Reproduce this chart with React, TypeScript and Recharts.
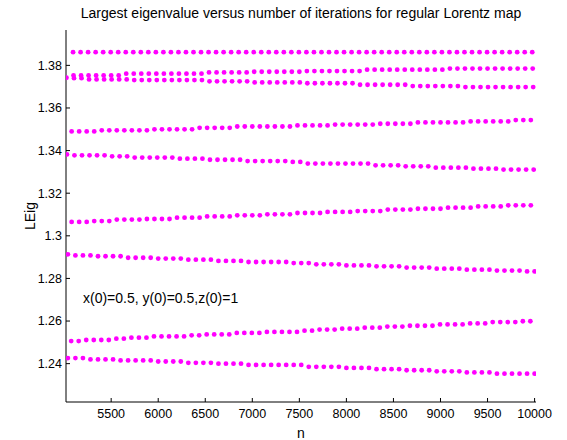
import { Label, Scatter, ScatterChart, XAxis, YAxis } from "recharts";

// base sample grid (n) and per-band shift
const nGrid = [
  5020, 5100, 5180, 5260, 5340, 5420, 5500, 5580, 5660, 5740,
  5820, 5900, 5980, 6060, 6140, 6220, 6300, 6380, 6460, 6540,
  6620, 6700, 6780, 6860, 6940, 7020, 7100, 7180, 7260, 7340,
  7420, 7500, 7580, 7660, 7740, 7820, 7900, 7980, 8060, 8140,
  8220, 8300, 8380, 8460, 8540, 8620, 8700, 8780, 8860, 8940,
  9020, 9100, 9180, 9260, 9340, 9420, 9500, 9580, 9660, 9740,
  9820, 9900, 9980,
];

const bandA = [
  1.3862, 1.3862, 1.3862, 1.3862, 1.3862, 1.3862, 1.3862, 1.3862, 1.3862, 1.3862,
  1.3862, 1.3862, 1.3862, 1.3862, 1.3862, 1.3862, 1.3862, 1.3862, 1.3862, 1.3862,
  1.3862, 1.3862, 1.3862, 1.3862, 1.3862, 1.3862, 1.3862, 1.3862, 1.3862, 1.3862,
  1.3862, 1.3862, 1.3862, 1.3862, 1.3862, 1.3862, 1.3862, 1.3862, 1.3862, 1.3862,
  1.3862, 1.3862, 1.3862, 1.3862, 1.3862, 1.3862, 1.3862, 1.3862, 1.3862, 1.3862,
  1.3862, 1.3862, 1.3862, 1.3862, 1.3862, 1.3862, 1.3862, 1.3862, 1.3862, 1.3862,
  1.3862, 1.3862,
];

const bandB = [
  1.3753, 1.3753, 1.3753, 1.3753, 1.3753, 1.3753, 1.3753,
  1.3761, 1.3761, 1.3761, 1.3761, 1.3761, 1.3761, 1.3761, 1.3761, 1.3761, 1.3761, 1.3761,
  1.3767, 1.3767, 1.3767, 1.3767, 1.3767, 1.3767,
  1.377, 1.377, 1.377, 1.377, 1.377, 1.377, 1.377,
  1.3773, 1.3773, 1.3773, 1.3773, 1.3773, 1.3773, 1.3773, 1.3773,
  1.378, 1.378, 1.378, 1.378, 1.378, 1.378, 1.378, 1.378, 1.378, 1.378, 1.378,
  1.3785, 1.3785, 1.3785, 1.3785, 1.3785, 1.3785, 1.3785, 1.3785, 1.3785, 1.3785, 1.3785, 1.3785,
];

const bandC = [
  1.3742,
  1.374, 1.374,
  1.3734, 1.3734, 1.3734, 1.3734, 1.3734, 1.3734,
  1.3731, 1.3731, 1.3731, 1.3731, 1.3731, 1.3731, 1.3731, 1.3731, 1.3731, 1.3731,
  1.3725, 1.3725, 1.3725, 1.3725, 1.3725, 1.3725,
  1.372, 1.372, 1.372, 1.372, 1.372, 1.372, 1.372,
  1.3716, 1.3716, 1.3716, 1.3716, 1.3716, 1.3716, 1.3716,
  1.3709, 1.3709, 1.3709, 1.3709, 1.3709, 1.3709, 1.3709,
  1.3703, 1.3703, 1.3703, 1.3703, 1.3703, 1.3703, 1.3703,
  1.3698, 1.3698, 1.3698, 1.3698, 1.3698, 1.3698, 1.3698, 1.3698, 1.3698, 1.3698,
];

const bandD = [
  1.349, 1.349, 1.349, 1.349,
  1.3495, 1.3495, 1.3495, 1.3495, 1.3495, 1.3495, 1.3495,
  1.35, 1.35, 1.35, 1.35, 1.35, 1.35,
  1.3507, 1.3507, 1.3507, 1.3507, 1.3507,
  1.3513, 1.3513, 1.3513, 1.3513, 1.3513, 1.3513, 1.3513, 1.3513,
  1.3518, 1.3518, 1.3518, 1.3518, 1.3518,
  1.3522, 1.3522, 1.3522, 1.3522, 1.3522, 1.3522,
  1.3526, 1.3526, 1.3526, 1.3526, 1.3526,
  1.3532, 1.3532, 1.3532, 1.3532, 1.3532, 1.3532, 1.3532,
  1.3537, 1.3537, 1.3537, 1.3537, 1.3537, 1.3537,
  1.3543, 1.3543, 1.3543,
];

const bandE = [
  1.3382,
  1.3378, 1.3378, 1.3378, 1.3378, 1.3378,
  1.3373, 1.3373, 1.3373,
  1.3367, 1.3367, 1.3367, 1.3367, 1.3367, 1.3367,
  1.3362, 1.3362, 1.3362, 1.3362,
  1.3357, 1.3357, 1.3357, 1.3357, 1.3357,
  1.3351, 1.3351, 1.3351, 1.3351, 1.3351, 1.3351,
  1.3347, 1.3347,
  1.3339, 1.3339, 1.3339, 1.3339, 1.3339, 1.3339, 1.3339, 1.3339, 1.3339,
  1.3331, 1.3331, 1.3331, 1.3331,
  1.3326, 1.3326, 1.3326, 1.3326,
  1.332, 1.332, 1.332, 1.332, 1.332,
  1.3315, 1.3315, 1.3315, 1.3315,
  1.3311, 1.3311, 1.3311, 1.3311, 1.3311,
];

const bandF = [
  1.3065, 1.3065, 1.3065,
  1.3069, 1.3069, 1.3069,
  1.3076, 1.3076, 1.3076, 1.3076,
  1.3079, 1.3079, 1.3079, 1.3079,
  1.3085, 1.3085, 1.3085, 1.3085,
  1.3091, 1.3091, 1.3091, 1.3091,
  1.3096, 1.3096, 1.3096, 1.3096,
  1.3101, 1.3101, 1.3101, 1.3101,
  1.3107, 1.3107, 1.3107, 1.3107,
  1.3112, 1.3112, 1.3112, 1.3112,
  1.3116, 1.3116, 1.3116, 1.3116,
  1.3123, 1.3123, 1.3123, 1.3123,
  1.3127, 1.3127, 1.3127, 1.3127,
  1.3132, 1.3132, 1.3132, 1.3132,
  1.3138, 1.3138, 1.3138, 1.3138,
  1.3143, 1.3143, 1.3143, 1.3143,
];

const bandG = [
  1.2913,
  1.2908, 1.2908, 1.2908,
  1.2904, 1.2904, 1.2904, 1.2904,
  1.2897, 1.2897, 1.2897, 1.2897,
  1.2893, 1.2893, 1.2893, 1.2893,
  1.2888, 1.2888, 1.2888, 1.2888,
  1.2882, 1.2882, 1.2882, 1.2882,
  1.2877, 1.2877, 1.2877, 1.2877, 1.2877, 1.2877,
  1.2872, 1.2872, 1.2872,
  1.2866, 1.2866, 1.2866, 1.2866,
  1.2861, 1.2861, 1.2861, 1.2861,
  1.2857, 1.2857, 1.2857, 1.2857,
  1.2851, 1.2851, 1.2851, 1.2851,
  1.2846, 1.2846, 1.2846, 1.2846,
  1.2841, 1.2841, 1.2841, 1.2841,
  1.2837, 1.2837, 1.2837, 1.2837,
  1.2833, 1.2833,
];

const bandH = [
  1.2506, 1.2506,
  1.2511, 1.2511, 1.2511, 1.2511,
  1.2517, 1.2517,
  1.2522, 1.2522, 1.2522,
  1.2528, 1.2528, 1.2528, 1.2528, 1.2528,
  1.2533, 1.2533,
  1.2537, 1.2537, 1.2537, 1.2537,
  1.2544, 1.2544, 1.2544, 1.2544,
  1.2549, 1.2549, 1.2549, 1.2549, 1.2549,
  1.2555, 1.2555,
  1.256, 1.256, 1.256,
  1.2564, 1.2564, 1.2564,
  1.2569, 1.2569, 1.2569,
  1.2574, 1.2574, 1.2574,
  1.2578, 1.2578, 1.2578, 1.2578,
  1.2584, 1.2584, 1.2584, 1.2584,
  1.2589, 1.2589, 1.2589,
  1.2595, 1.2595, 1.2595, 1.2595,
  1.2599, 1.2599,
];

const bandI = [
  1.2426, 1.2426, 1.2426,
  1.242, 1.242, 1.242, 1.242,
  1.2415, 1.2415, 1.2415, 1.2415, 1.2415,
  1.241, 1.241, 1.241, 1.241,
  1.2404, 1.2404, 1.2404, 1.2404,
  1.24, 1.24, 1.24, 1.24,
  1.2394, 1.2394, 1.2394, 1.2394, 1.2394, 1.2394, 1.2394, 1.2394,
  1.2385, 1.2385, 1.2385, 1.2385, 1.2385,
  1.238, 1.238, 1.238, 1.238,
  1.2374, 1.2374, 1.2374, 1.2374,
  1.2369, 1.2369, 1.2369, 1.2369,
  1.2364, 1.2364, 1.2364, 1.2364,
  1.2359, 1.2359, 1.2359, 1.2359,
  1.2353, 1.2353, 1.2353, 1.2353, 1.2353, 1.2353,
];

const bands: [number[], number][] = [
  [bandA, 75], [bandB, 80], [bandC, 5], [bandD, 60], [bandE, 10],
  [bandF, 60], [bandG, 20], [bandH, 55], [bandI, 20],
];

const xTicks = [5500, 6000, 6500, 7000, 7500, 8000, 8500, 9000, 9500, 10000];
const yTicks = [1.24, 1.26, 1.28, 1.3, 1.32, 1.34, 1.36, 1.38];
const xDomain = [5020, 10015];
const yDomain = [1.222, 1.3966];

const font = "'Liberation Sans', Arial, sans-serif";
const tickStyle = { fill: "#000", fontSize: 12.5, fontFamily: font };
const labelStyle = { fill: "#000", fontSize: 14, fontFamily: font };
const fmtY = (v: number) => String(Number(v.toFixed(2)));
const blank = () => "";

function Dot(props: any) {
  return <circle cx={props.cx} cy={props.cy} r={2.4} fill="#ff00ff" />;
}

export default function App() {
  return (
    <div style={{ position: "relative", width: 567, height: 440, fontFamily: font, background: "#fff" }}>
      <style>{"body{margin:0}"}</style>
      <ScatterChart width={567} height={440} margin={{ top: 30, right: 31, bottom: 0, left: 0 }}>
        <XAxis type="number" dataKey="n" domain={xDomain} ticks={xTicks} allowDataOverflow height={38}
          tickSize={-4} tickMargin={11} tick={tickStyle} axisLine={{ stroke: "#000" }} tickLine={{ stroke: "#000" }}>
          <Label value="n" position="insideBottom" offset={2} style={labelStyle} />
        </XAxis>
        <XAxis xAxisId="top" orientation="top" type="number" domain={xDomain} ticks={xTicks} allowDataOverflow height={0}
          tickSize={-4} tickFormatter={blank} axisLine={{ stroke: "#000" }} tickLine={{ stroke: "#000" }} />
        <YAxis type="number" dataKey="v" domain={yDomain} ticks={yTicks} allowDataOverflow width={66}
          tickSize={-4} tickMargin={8} tick={tickStyle} tickFormatter={fmtY} axisLine={{ stroke: "#000" }} tickLine={{ stroke: "#000" }}>
          <Label value="LEig" angle={-90} position="center" dx={-3} style={{ ...labelStyle, textAnchor: "middle" }} />
        </YAxis>
        <YAxis yAxisId="right" orientation="right" type="number" domain={yDomain} ticks={yTicks} allowDataOverflow width={0}
          tickSize={-4} tickFormatter={blank} axisLine={{ stroke: "#000" }} tickLine={{ stroke: "#000" }} />
        {bands.map(([vals, shift], i) => (
          <Scatter key={i} data={vals.map((v, k) => ({ n: nGrid[k] + shift, v }))} shape={Dot} isAnimationActive={false} />
        ))}
      </ScatterChart>
      <div style={{ position: "absolute", left: 51, width: 500, top: 5, textAlign: "center", fontSize: 14, lineHeight: "16px", color: "#000", whiteSpace: "nowrap" }}>
        Largest eigenvalue versus number of iterations for regular Lorentz map
      </div>
      <div style={{ position: "absolute", left: 83, top: 290, fontSize: 14, lineHeight: "16px", color: "#000", whiteSpace: "nowrap" }}>
        x(0)=0.5, y(0)=0.5,z(0)=1
      </div>
    </div>
  );
}
